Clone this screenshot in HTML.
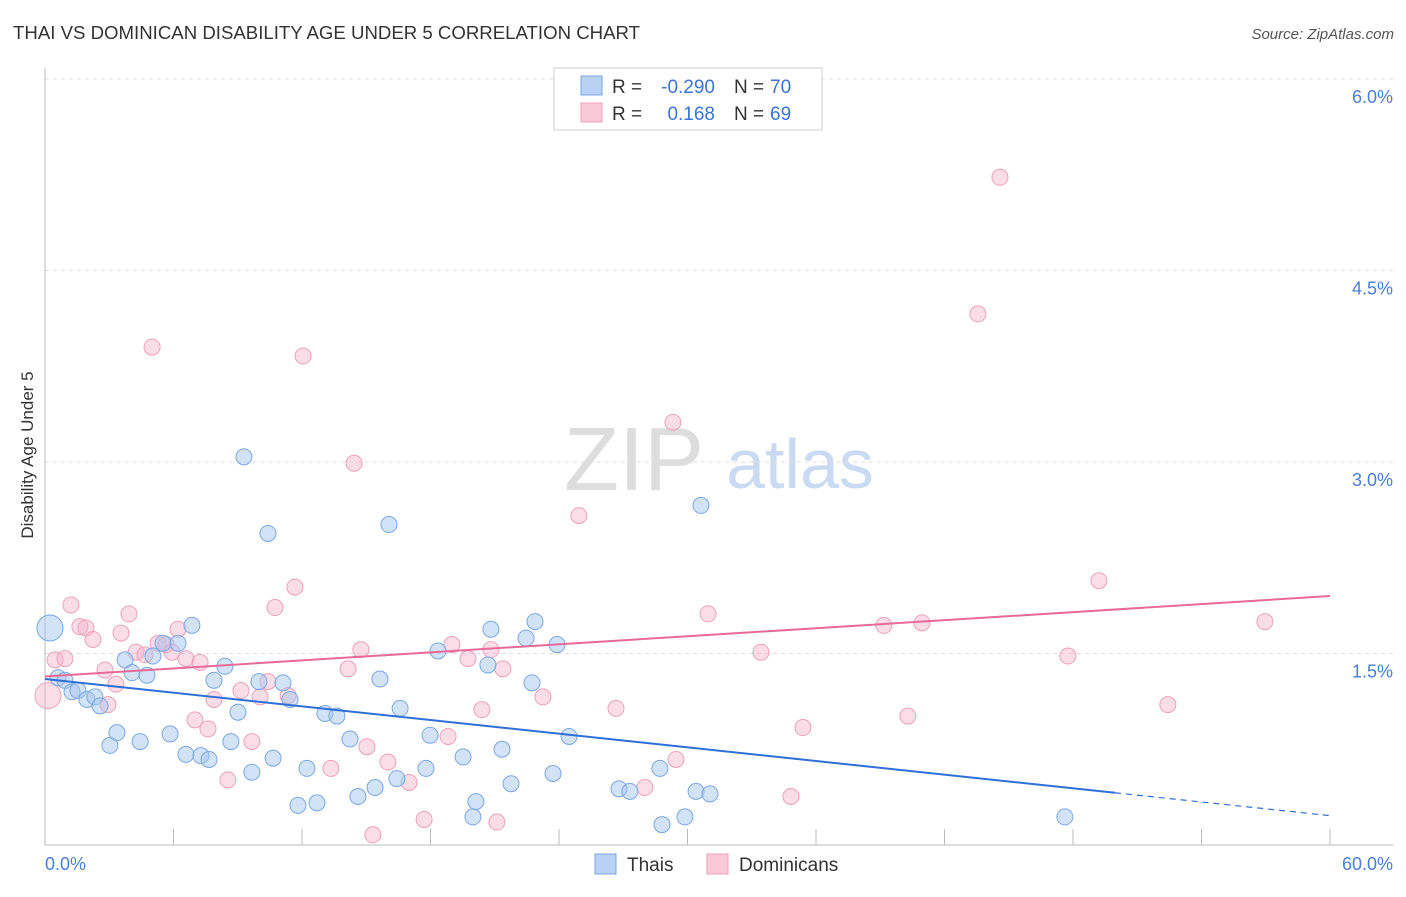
<!DOCTYPE html>
<html><head><meta charset="utf-8">
<style>
body{margin:0;background:#fff;font-family:"Liberation Sans",sans-serif;}
svg text{font-family:"Liberation Sans",sans-serif;}
</style></head>
<body>
<svg id="chart" width="1406" height="892" xmlns="http://www.w3.org/2000/svg">
<text x="13" y="39" font-size="18" fill="#333" textLength="627" lengthAdjust="spacingAndGlyphs">THAI VS DOMINICAN DISABILITY AGE UNDER 5 CORRELATION CHART</text>
<text x="1394" y="39" font-size="15" fill="#555" text-anchor="end" font-style="italic">Source: ZipAtlas.com</text>
<g>
<text x="634" y="490" font-size="90" fill="#ddd" text-anchor="middle" font-family="Liberation Serif, serif">ZIP</text>
<text x="800" y="488" font-size="70" fill="#c9daf2" text-anchor="middle">atlas</text>
</g>
<text transform="translate(33,455) rotate(-90)" font-size="17" fill="#333" text-anchor="middle">Disability Age Under 5</text>
<g id="grid"></g>
<g id="axes"></g>
<g id="marks"></g>
<g>
<rect x="554" y="68" width="268" height="62" fill="#fff" stroke="#ccc"/>
<rect x="581" y="76" width="21" height="19" fill="#b9d1f2" stroke="#7aa8e6"/>
<rect x="581" y="103" width="21" height="19" fill="#f9c9d8" stroke="#eea0bb"/>
<text x="612" y="93" font-size="19" fill="#333">R =</text>
<text x="715" y="93" font-size="19" fill="#3b74d6" text-anchor="end">-0.290</text>
<text x="734" y="93" font-size="19" fill="#333">N =</text>
<text x="770" y="93" font-size="19" fill="#3b74d6">70</text>
<text x="612" y="120" font-size="19" fill="#333">R =</text>
<text x="715" y="120" font-size="19" fill="#3b74d6" text-anchor="end">0.168</text>
<text x="734" y="120" font-size="19" fill="#333">N =</text>
<text x="770" y="120" font-size="19" fill="#3b74d6">69</text>
</g>
<g>
<rect x="595" y="854" width="21" height="20" fill="#b9d1f2" stroke="#7aa8e6"/>
<text x="627" y="871" font-size="19" fill="#333">Thais</text>
<rect x="707" y="854" width="21" height="20" fill="#f9c9d8" stroke="#eea0bb"/>
<text x="739" y="871" font-size="19" fill="#333">Dominicans</text>
</g>
</svg>
<script>
const blueX=[0.23,0.61,0.93,1.26,1.54,1.96,2.33,2.57,3.03,3.36,3.74,4.06,4.44,4.76,5.04,5.51,5.84,6.21,6.58,6.86,7.28,7.66,7.89,8.40,8.68,9.01,9.29,9.66,9.99,10.41,10.65,11.11,11.44,11.81,12.23,12.70,13.07,13.63,14.24,14.61,15.41,15.64,16.06,16.43,16.58,17.79,17.98,18.35,19.52,19.98,20.12,20.68,20.82,21.34,21.76,22.46,22.74,22.88,23.72,23.91,24.47,26.80,27.31,28.71,28.81,29.88,30.40,30.63,31.05,47.62];
const blueY=[1.70,1.31,1.29,1.20,1.21,1.14,1.16,1.09,0.78,0.88,1.45,1.35,0.81,1.33,1.48,1.58,0.87,1.58,0.71,1.72,0.70,0.67,1.29,1.40,0.81,1.04,3.04,0.57,1.28,2.44,0.68,1.27,1.14,0.31,0.60,0.33,1.03,1.01,0.83,0.38,0.45,1.30,2.51,0.52,1.07,0.60,0.86,1.52,0.69,0.22,0.34,1.41,1.69,0.75,0.48,1.62,1.27,1.75,0.56,1.57,0.85,0.44,0.42,0.60,0.16,0.22,0.42,2.66,0.40,0.22];
const pinkX=[0.14,0.47,0.93,1.21,1.63,1.91,2.24,2.80,2.94,3.31,3.55,3.92,4.25,4.67,5.00,5.28,5.65,5.93,6.21,6.58,7.00,7.24,7.61,7.89,8.54,9.15,9.66,10.04,10.41,10.74,11.35,11.67,12.05,13.35,14.15,14.43,14.75,15.03,15.31,16.01,17.00,17.70,18.82,19.00,19.75,20.40,20.82,21.10,21.38,23.25,24.93,26.66,28.01,29.32,29.46,30.96,33.43,34.83,35.39,39.17,40.29,40.95,43.56,44.59,47.76,49.21,52.43,56.96];
const pinkY=[1.17,1.45,1.46,1.88,1.71,1.70,1.61,1.37,1.10,1.26,1.66,1.81,1.51,1.49,3.90,1.58,1.57,1.51,1.69,1.46,0.98,1.43,0.91,1.14,0.51,1.21,0.81,1.16,1.28,1.86,1.17,2.02,3.83,0.60,1.38,2.99,1.53,0.77,0.08,0.65,0.49,0.20,0.85,1.57,1.46,1.06,1.53,0.18,1.38,1.16,2.58,1.07,0.45,3.31,0.67,1.81,1.51,0.38,0.92,1.72,1.01,1.74,4.16,5.23,1.48,2.07,1.10,1.75];
const blueTrend=[1.30,0.23]; // values at x=0 and x=60
const pinkTrend=[1.32,1.95];
const yTicks=[1.5,3.0,4.5,6.0];
const xTicks=[0,6,12,18,24,30,36,42,48,54,60];
const X=v=>45+v*(1285/60), Y=v=>845-v*127.67;
const NS="http://www.w3.org/2000/svg";
function mk(tag,parent,attrs){const e=document.createElementNS(NS,tag);for(const k in attrs)e.setAttribute(k,attrs[k]);document.getElementById(parent).appendChild(e);return e;}
yTicks.forEach(t=>{
 const l=mk('line','grid',{x1:45,x2:1393,y1:Y(t),y2:Y(t),stroke:'#ddd','stroke-dasharray':'4,4'});
 
 
 const tx=mk('text','grid',{x:1393,y:Y(t)+24,'font-size':18,fill:'#4a7fd4','text-anchor':'end'});
 tx.textContent=t.toFixed(1)+'%';
 
 
});
let a=mk('line','axes',{x1:45,x2:1393,y1:845,y2:845,stroke:'#bbb'});


a=mk('line','axes',{x1:45,x2:45,y1:68,y2:845,stroke:'#bbb'});


xTicks.forEach(t=>{const l=mk('line','axes',{x1:X(t),x2:X(t),y1:829,y2:845,stroke:'#bbb'});
 
 });
[[0,'start',45],[60,'end',1393]].forEach(([v,anc,px])=>{const t=mk('text','axes',{x:px,y:870,'font-size':18,fill:'#4a7fd4','text-anchor':anc});t.textContent=v.toFixed(1)+'%';
 
 });
function pts(xs,ys,fill,stroke,name){xs.forEach((x,i)=>{const r=(i===0)?13:8;const c=mk('circle','marks',{cx:X(x),cy:Y(ys[i]),r:r,fill:fill,stroke:stroke,'stroke-width':1});
 
 });}
pts(pinkX,pinkY,'rgba(246,180,204,0.45)','#eea0bb','dominican-point');
pts(blueX,blueY,'rgba(165,198,240,0.5)','#7aa8e6','thai-point');
const bEnd=49.96, bAt=v=>blueTrend[0]+(blueTrend[1]-blueTrend[0])*v/60;
let ln=mk('line','marks',{x1:X(0),y1:Y(bAt(0)),x2:X(bEnd),y2:Y(bAt(bEnd)),stroke:'#2f6fd8','stroke-width':2});


ln=mk('line','marks',{x1:X(bEnd),y1:Y(bAt(bEnd)),x2:X(60),y2:Y(bAt(60)),stroke:'#2f6fd8','stroke-width':1.2,'stroke-dasharray':'6,5'});


ln=mk('line','marks',{x1:X(0),y1:Y(pinkTrend[0]),x2:X(60),y2:Y(pinkTrend[1]),stroke:'#e86a99','stroke-width':2});


</script>
</body></html>
